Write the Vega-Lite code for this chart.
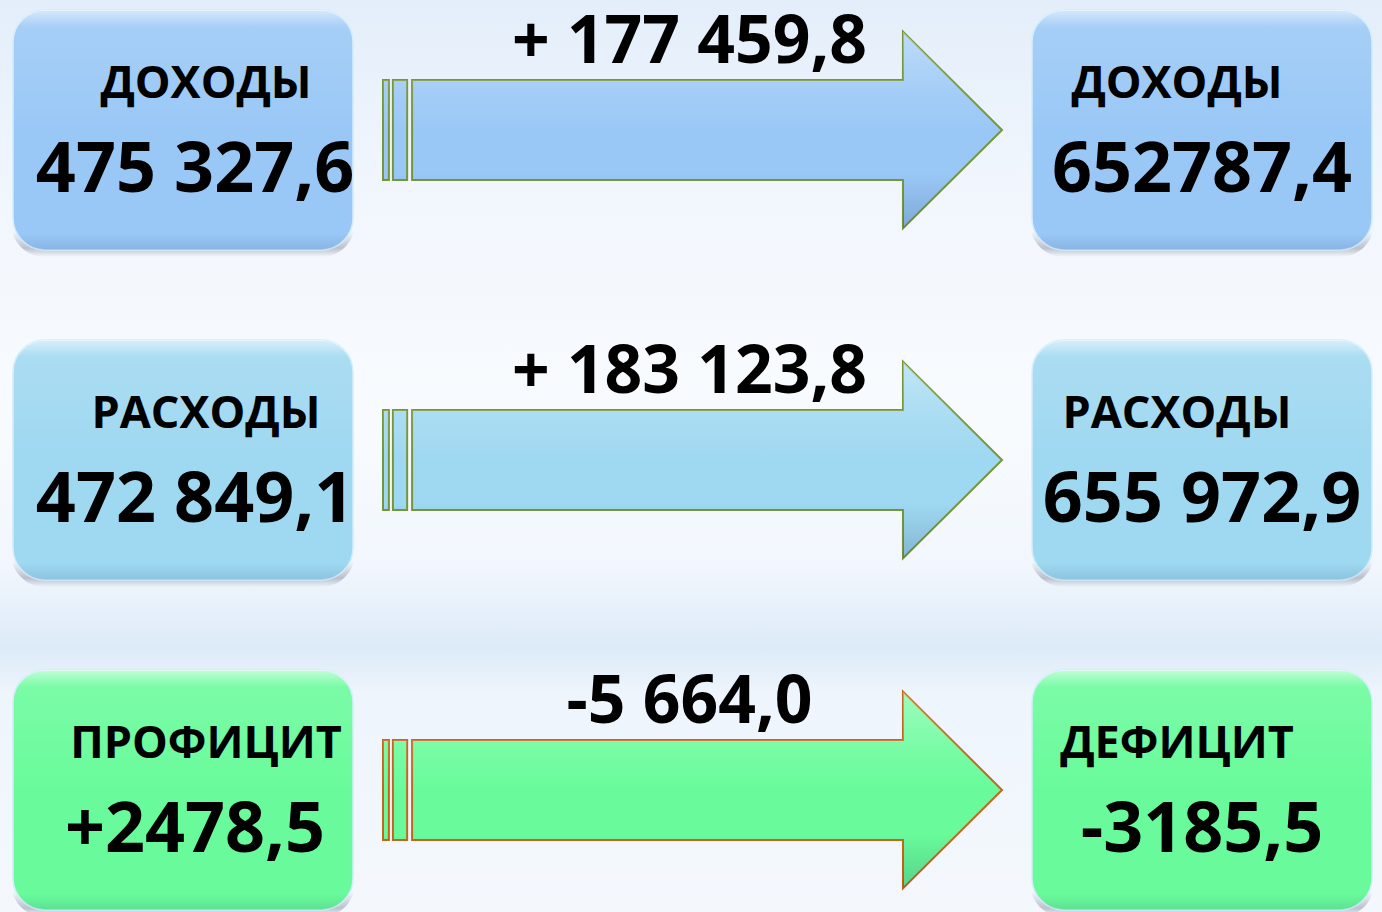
{
  "$schema": "https://vega.github.io/schema/vega-lite/v6.json",
  "width": 1382,
  "height": 912,
  "autosize": "none",
  "padding": 0,
  "background": "#ffffff",
  "config": {
    "view": {
      "stroke": null,
      "fill": {
        "gradient": "linear", "x1": 0, "y1": 0, "x2": 0, "y2": 1,
        "stops": [
          {"offset": 0, "color": "#e3eefa"},
          {"offset": 0.2, "color": "#f1f6fd"},
          {"offset": 0.45, "color": "#f8fbfe"},
          {"offset": 0.62, "color": "#f2f7fd"},
          {"offset": 0.71, "color": "#dceaf8"},
          {"offset": 0.76, "color": "#eef5fc"},
          {"offset": 1, "color": "#f4f8fd"}
        ]
      }
    },
    "text": {"font": "Open Sans", "fontWeight": "bold", "color": "#000000"}
  },
  "datasets": {
    "boxes": [
      {"row": 0, "col": 0, "kind": "Доходы", "label": "ДОХОДЫ", "value": "475 327,6"},
      {"row": 0, "col": 2, "kind": "Доходы", "label": "ДОХОДЫ", "value": "652787,4"},
      {"row": 1, "col": 0, "kind": "Расходы", "label": "РАСХОДЫ", "value": "472 849,1"},
      {"row": 1, "col": 2, "kind": "Расходы", "label": "РАСХОДЫ", "value": "655 972,9"},
      {"row": 2, "col": 0, "kind": "Сальдо", "label": "ПРОФИЦИТ", "value": "+2478,5"},
      {"row": 2, "col": 2, "kind": "Сальдо", "label": "ДЕФИЦИТ", "value": "-3185,5"}
    ],
    "changes": [
      {"row": 0, "col": 1, "kind": "Доходы", "change": "+ 177 459,8"},
      {"row": 1, "col": 1, "kind": "Расходы", "change": "+ 183 123,8"},
      {"row": 2, "col": 1, "kind": "Сальдо", "change": "-5 664,0"}
    ]
  },
  "encoding": {
    "x": {"field": "col", "type": "quantitative", "scale": {"domain": [-0.3592, 2.3533], "nice": false, "zero": false}, "axis": null},
    "y": {"field": "row", "type": "quantitative", "scale": {"domain": [-0.3939, 2.3697], "reverse": true, "nice": false, "zero": false}, "axis": null}
  },
  "layer": [
    {
      "data": {"name": "boxes"},
      "mark": {"type": "rect", "width": 344, "height": 254, "cornerRadius": 34,
        "fill": {
          "gradient": "linear", "x1": 0, "y1": 0, "x2": 0, "y2": 1,
          "stops": [
            {"offset": 0, "color": "rgba(60,70,90,0)"},
            {"offset": 0.9, "color": "rgba(60,70,90,0)"},
            {"offset": 0.965, "color": "rgba(60,70,90,0.3)"},
            {"offset": 1, "color": "rgba(60,70,90,0)"}
          ]
        }
      }
    },
    {
      "data": {"name": "boxes"},
      "mark": {"type": "rect", "width": 340, "height": 240, "cornerRadius": 32, "strokeWidth": 1.5, "stroke": "#d2ecfb"},
      "encoding": {
        "fill": {"field": "kind", "type": "nominal", "legend": null,
          "scale": {"domain": ["Доходы", "Расходы", "Сальдо"], "range": ["#9ac8f6", "#9fd8f1", "#69fb9b"]}}
      }
    },
    {
      "data": {"name": "boxes"},
      "mark": {"type": "rect", "width": 340, "height": 240, "cornerRadius": 32,
        "fill": {
          "gradient": "linear", "x1": 0, "y1": 0, "x2": 0, "y2": 1,
          "stops": [
            {"offset": 0, "color": "rgba(255,255,255,0.6)"},
            {"offset": 0.07, "color": "rgba(255,255,255,0.12)"},
            {"offset": 0.5, "color": "rgba(255,255,255,0)"},
            {"offset": 0.93, "color": "rgba(0,40,90,0)"},
            {"offset": 1, "color": "rgba(0,40,90,0.12)"}
          ]
        }
      }
    },
    {
      "data": {"name": "changes"},
      "mark": {
        "type": "point", "filled": true, "opacity": 1, "size": 383161, "strokeWidth": 2,
        "shape": "M-1,-0.1616 L-0.981,-0.1616 L-0.981,0.1616 L-1,0.1616 Z M-0.968,-0.1616 L-0.922,-0.1616 L-0.922,0.1616 L-0.968,0.1616 Z M-0.906,-0.1616 L0.68,-0.1616 L0.68,-0.318 L1,0 L0.68,0.318 L0.68,0.1616 L-0.906,0.1616 Z"
      },
      "encoding": {
        "fill": {"field": "kind", "type": "nominal", "legend": null,
          "scale": {"domain": ["Доходы", "Расходы", "Сальдо"], "range": ["#97c4f3", "#9dd8f0", "#67f897"]}},
        "stroke": {"field": "kind", "type": "nominal", "legend": null,
          "scale": {"domain": ["Доходы", "Расходы", "Сальдо"], "range": ["#76963a", "#76963a", "#c4661c"]}}
      }
    },
    {
      "data": {"name": "changes"},
      "mark": {
        "type": "point", "filled": true, "opacity": 1, "size": 383161, "strokeWidth": 0,
        "shape": "M-1,-0.1616 L-0.981,-0.1616 L-0.981,0.1616 L-1,0.1616 Z M-0.968,-0.1616 L-0.922,-0.1616 L-0.922,0.1616 L-0.968,0.1616 Z M-0.906,-0.1616 L0.68,-0.1616 L0.68,-0.318 L1,0 L0.68,0.318 L0.68,0.1616 L-0.906,0.1616 Z",
        "fill": {
          "gradient": "linear", "x1": 0, "y1": 0, "x2": 0, "y2": 1,
          "stops": [
            {"offset": 0, "color": "rgba(255,255,255,0.35)"},
            {"offset": 0.3, "color": "rgba(255,255,255,0.1)"},
            {"offset": 0.5, "color": "rgba(255,255,255,0)"},
            {"offset": 0.72, "color": "rgba(0,30,70,0)"},
            {"offset": 1, "color": "rgba(0,30,70,0.18)"}
          ]
        }
      }
    },
    {
      "data": {"name": "changes"},
      "mark": {"type": "text", "fontSize": 66, "align": "center", "baseline": "alphabetic", "dx": -3, "dy": -67},
      "encoding": {"text": {"field": "change"}}
    },
    {
      "data": {"name": "boxes"},
      "transform": [{"filter": "datum.col == 0"}],
      "mark": {"type": "text", "fontSize": 45, "align": "center", "baseline": "alphabetic", "dx": 23, "dy": -32},
      "encoding": {"text": {"field": "label"}}
    },
    {
      "data": {"name": "boxes"},
      "transform": [{"filter": "datum.col == 2"}],
      "mark": {"type": "text", "fontSize": 45, "align": "center", "baseline": "alphabetic", "dx": -25, "dy": -32},
      "encoding": {"text": {"field": "label"}}
    },
    {
      "data": {"name": "boxes"},
      "transform": [{"filter": "datum.col == 0"}],
      "mark": {"type": "text", "fontSize": 70, "align": "center", "baseline": "alphabetic", "dx": 12, "dy": 62},
      "encoding": {"text": {"field": "value"}}
    },
    {
      "data": {"name": "boxes"},
      "transform": [{"filter": "datum.col == 2"}],
      "mark": {"type": "text", "fontSize": 70, "align": "center", "baseline": "alphabetic", "dx": 0, "dy": 62},
      "encoding": {"text": {"field": "value"}}
    }
  ]
}
